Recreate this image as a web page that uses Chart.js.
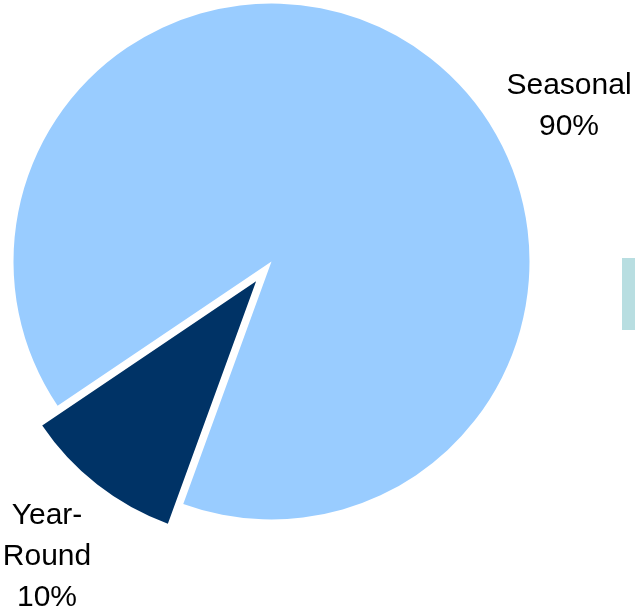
<!DOCTYPE html>
<html>
<head>
<meta charset="utf-8">
<script src="https://cdn.jsdelivr.net/npm/chart.js@4"></script>
<style>
  html, body { margin: 0; padding: 0; background: #fff; }
  #wrap { position: relative; width: 635px; height: 613px; }
  /* stray legend swatch at the right edge */
  #swatch { position: absolute; left: 622px; top: 258px; width: 13px; height: 72px; background: #b8dee1; }
</style>
</head>
<body>
<div id="wrap">
  <canvas id="ch-pie"></canvas>
  <div id="swatch"></div>
</div>
<script>
// ── Dados ──
const labels  = ['Year-Round', 'Seasonal'];
const valores = [10, 90];
const cores   = ['#003366', '#99ccff'];
const explode = [25, 0];          // deslocamento radial de cada fatia (px)

// ── Rótulos fora da pizza ──
const rotulos = {
  'Seasonal':   { x: 569, y: 94,  lines: ['Seasonal', '90%'] },
  'Year-Round': { x: 47,  y: 524, lines: ['Year-', 'Round', '10%'] }
};

// Desloca a fatia ao longo da bissetriz sem mudar o raio
const explodePlugin = {
  id: 'explode',
  afterDatasetUpdate(chart, args) {
    const meta = chart.getDatasetMeta(args.index);
    meta.data.forEach((arc, i) => {
      const d = explode[i] || 0;
      if (!d) return;
      const mid = (arc.startAngle + arc.endAngle) / 2;
      arc.x += Math.cos(mid) * d;
      arc.y += Math.sin(mid) * d;
    });
  }
};

const labelPlugin = {
  id: 'pieLabels',
  afterDatasetsDraw(chart) {
    const ctx = chart.ctx;
    ctx.save();
    ctx.font = '30px "Liberation Sans", Arial, sans-serif';
    ctx.fillStyle = '#000';
    ctx.textAlign = 'center';
    ctx.textBaseline = 'alphabetic';
    chart.data.labels.forEach((lbl, i) => {
      const r = rotulos[lbl];
      if (!r) return;
      r.lines.forEach((t, k) => ctx.fillText(t, r.x, r.y + k * 41));
    });
    ctx.restore();
  }
};

const ctx = document.getElementById('ch-pie').getContext('2d');
new Chart(ctx, {
  type: 'pie',
  data: {
    labels: labels,
    datasets: [{ data: valores, backgroundColor: cores, borderWidth: 0 }]
  },
  plugins: [explodePlugin, labelPlugin],
  options: {
    responsive: true, maintainAspectRatio: false,
    animation: false,
    rotation: 200,
    radius: 258,
    layout: { padding: { left: 0, top: 0, right: 92, bottom: 90 } },
    plugins: { legend: { display: false }, tooltip: { enabled: false } }
  }
});
</script>
</body>
</html>
